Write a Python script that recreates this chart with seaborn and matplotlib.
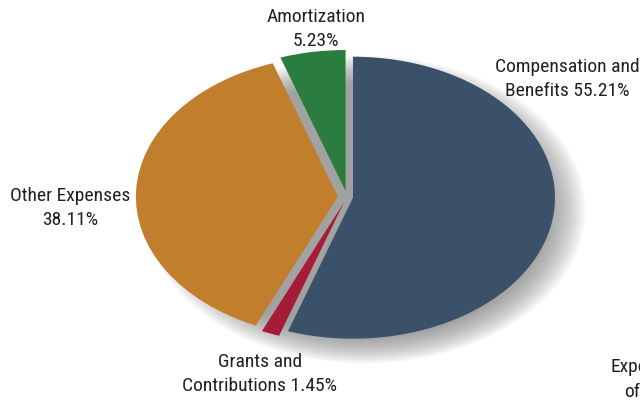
import matplotlib
matplotlib.use("Agg")
import matplotlib.pyplot as plt
import seaborn as sns

# Expense breakdown
categories = ["Compensation and Benefits", "Grants and Contributions", "Other Expenses", "Amortization"]
shares = [55.21, 1.45, 38.11, 5.23]
label_texts = ["Compensation and\nBenefits 55.21%", "Grants and\nContributions 1.45%",
               "Other Expenses\n38.11%", "Amortization\n5.23%"]
colors = ["#3b5069", "#a51c38", "#c17f2e", "#2b7d3f"]
explode = [0.03, 0.04, 0.045, 0.043]

sns.set_theme(style="white")
plt.rcParams["font.family"] = ["Roboto Condensed", "Archivo Narrow", "DejaVu Sans"]

W, H = 640, 402
fig = plt.figure(figsize=(W / 100, H / 100), dpi=100)
ax = fig.add_axes([0, 0, 1, 1])
ax.axis("off")

# soft drop shadow under the whole pie, cast toward the lower right
n_layers = 18
for i in range(n_layers):
    r = 1.09 - i * 0.011
    ax.pie([1], radius=r, center=(0.09, -0.09), colors=["#6e6e6e"],
           wedgeprops=dict(alpha=0.05, linewidth=0))

ax.pie(shares, colors=colors, explode=explode, startangle=90, counterclock=False,
       wedgeprops=dict(linewidth=0))

# elliptical pie: unequal x/y scaling
cx, cy, rx, ry = 347, 198, 202, 141
ax.set_aspect("auto")
ax.set_xlim(-cx / rx, (W - cx) / rx)
ax.set_ylim((cy - H) / ry, cy / ry)

pos = {
    "Compensation and Benefits": (567, 79),
    "Grants and Contributions": (260, 374),
    "Other Expenses": (70, 208),
    "Amortization": (316, 29),
}
for cat, txt in zip(categories, label_texts):
    x, y = pos[cat]
    fig.text(x / W, 1 - y / H, txt, ha="center", va="center", fontsize=14,
             color="#231f20", linespacing=1.4)

fig.text(610 / W, 1 - 367 / H, "Expenses", ha="left", va="center", fontsize=14, color="#231f20")
fig.text(624 / W, 1 - 392 / H, "of", ha="left", va="center", fontsize=14, color="#231f20")

fig.savefig("out.png", dpi=100, facecolor="white")
